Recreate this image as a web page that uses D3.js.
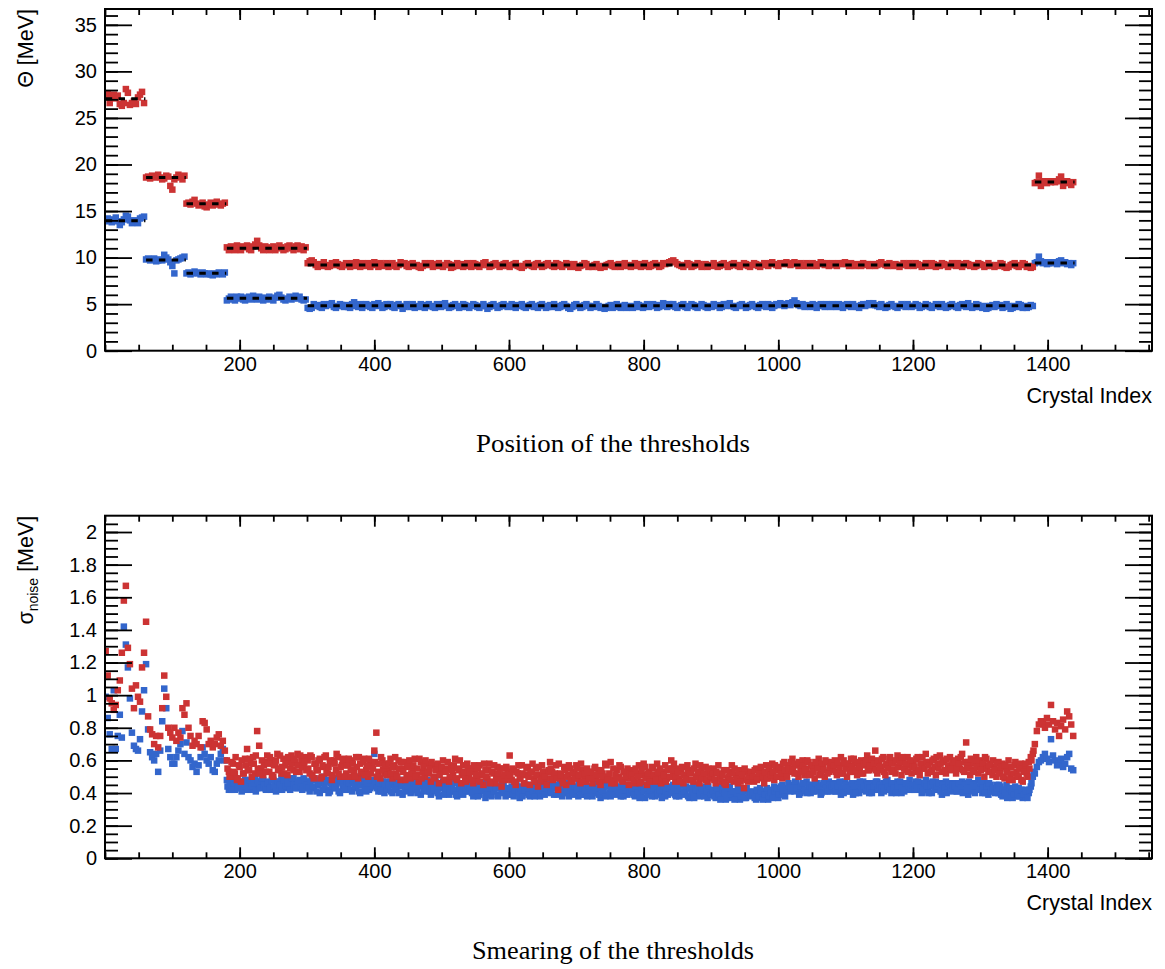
<!DOCTYPE html>
<html>
<head>
<meta charset="utf-8">
<script src="https://cdn.jsdelivr.net/npm/d3@7"></script>
<style>
  body { margin: 0; background: #fff; }
  svg { display: block; }
  .axis text { font-family: "Liberation Sans", Arial, sans-serif; }
</style>
</head>
<body>
<svg id="chart" width="1165" height="969"></svg>
<script>
// crystal index, read every third crystal along the axis
const crystalIndex = d3.range(1, 1441, 3);
// extra readings in the dense σ band, crystals in between
const crystalIndexMid = d3.range(182, 1380, 3);

// Θ threshold position [MeV], blue series
const thetaBlue = [
  // 1-58
  13.9, 14.2, 14.1, 13.8, 14.0, 14.3, 13.9, 13.5, 13.8, 14.1, 14.5, 14.4, 14.0, 13.7, 13.8, 14.0, 13.7, 14.2, 14.3, 14.4,
  // 61-118
  9.8, 9.9, 9.7, 9.8, 9.9, 9.6, 9.7, 9.8, 9.7, 10.3, 10.0, 9.8, 9.5, 9.1, 8.3, 9.7, 9.8, 9.9, 10.0, 10.1,
  // 121-178
  8.3, 8.4, 8.2, 8.3, 8.5, 8.4, 8.3, 8.2, 8.4, 8.3, 8.2, 8.3, 8.2, 8.1, 8.3, 8.2, 8.4, 8.3, 8.2, 8.4,
  // 181-298
  5.4, 5.6, 5.8, 5.5, 5.4, 5.8, 5.6, 5.8, 5.5, 5.4, 5.7, 5.8, 5.5, 5.9, 5.7, 5.5, 5.8, 5.6, 5.4, 5.7,
  5.5, 5.8, 5.6, 5.4, 5.7, 5.9, 6.0, 5.7, 5.5, 5.4, 5.6, 5.8, 5.5, 5.7, 5.9, 5.6, 5.8, 5.5, 5.4, 5.5,
  // 301-1378
  4.6, 4.5, 4.6, 5.0, 4.8, 4.9, 4.7, 4.6, 5.0, 4.8, 4.9, 5.0, 5.1, 4.7, 4.6, 4.8, 5.0, 4.9, 4.7, 4.9,
  4.7, 4.6, 5.0, 5.2, 4.8, 4.7, 5.0, 4.6, 4.8, 5.0, 4.9, 4.7, 4.6, 5.0, 4.8, 5.1, 4.9, 4.6, 4.7, 5.0,
  4.8, 5.0, 4.7, 4.6, 4.9, 5.0, 4.8, 4.5, 4.7, 5.0, 4.9, 4.7, 5.0, 4.6, 4.8, 4.7, 5.0, 4.9, 4.6, 4.8,
  5.0, 4.8, 4.7, 4.6, 5.0, 4.9, 4.7, 5.0, 5.1, 4.8, 4.6, 4.7, 4.9, 5.0, 4.8, 4.6, 4.7, 5.0, 4.9, 4.7,
  4.6, 4.8, 5.0, 4.9, 4.7, 4.6, 4.8, 5.0, 4.8, 4.5, 4.7, 4.9, 5.0, 4.8, 4.6, 4.7, 4.9, 5.0, 4.8, 4.7,
  4.8, 5.0, 4.7, 4.6, 4.9, 4.8, 5.0, 4.7, 4.6, 4.8, 4.9, 5.0, 4.7, 4.8, 4.6, 4.9, 5.0, 4.8, 4.6, 4.7,
  4.9, 4.7, 5.0, 4.8, 4.6, 4.7, 4.9, 5.0, 4.8, 4.6, 4.5, 4.7, 4.9, 5.0, 4.8, 4.6, 4.7, 4.9, 5.0, 4.8,
  4.6, 4.8, 4.7, 5.0, 4.8, 4.6, 4.7, 4.5, 4.6, 4.8, 4.9, 4.6, 4.8, 5.0, 4.7, 4.6, 4.8, 4.9, 4.6, 4.7,
  4.8, 4.6, 4.7, 5.0, 4.9, 4.7, 4.6, 4.8, 5.0, 4.7, 4.8, 5.0, 4.9, 4.6, 4.7, 4.9, 5.1, 4.8, 4.7, 5.0,
  4.8, 5.0, 4.7, 4.6, 4.8, 4.9, 5.0, 4.7, 4.6, 4.8, 5.0, 4.9, 4.7, 4.6, 4.8, 5.0, 4.9, 4.7, 4.6, 4.8,
  4.7, 5.0, 4.8, 4.9, 4.6, 4.7, 5.0, 4.8, 5.0, 5.1, 4.8, 4.7, 4.6, 4.8, 4.9, 5.0, 4.8, 4.6, 4.7, 4.9,
  5.0, 4.8, 4.7, 4.6, 4.9, 5.0, 4.8, 4.7, 5.0, 4.9, 4.6, 4.8, 5.0, 4.9, 5.1, 5.0, 4.8, 5.0, 5.1, 4.9,
  5.2, 5.4, 5.1, 4.9, 4.8, 5.0, 4.7, 4.9, 4.8, 4.7, 5.0, 4.9, 4.6, 4.8, 5.0, 4.9, 4.7, 5.0, 4.8, 4.7,
  5.0, 4.8, 4.7, 5.0, 4.9, 4.6, 4.8, 5.0, 4.9, 4.7, 5.0, 4.8, 4.7, 4.6, 4.9, 5.0, 4.8, 5.0, 5.1, 4.9,
  5.1, 4.9, 4.8, 4.7, 5.0, 4.8, 4.6, 4.7, 4.9, 5.0, 4.8, 4.7, 4.6, 4.8, 5.0, 4.9, 4.7, 5.0, 4.8, 4.7,
  4.8, 5.0, 4.9, 4.6, 4.7, 4.8, 5.0, 4.9, 4.7, 4.6, 4.8, 5.0, 4.9, 4.7, 5.0, 4.8, 4.6, 4.7, 4.9, 5.0,
  4.8, 4.7, 4.6, 4.9, 5.0, 4.8, 4.7, 5.1, 4.8, 4.6, 4.7, 5.0, 4.9, 4.7, 4.6, 4.8, 4.5, 4.6, 4.8, 4.9,
  4.7, 5.0, 4.8, 4.9, 4.6, 4.7, 5.0, 4.8, 4.5, 4.6, 4.8, 4.7, 5.0, 4.9, 4.6, 4.8, 4.6, 4.7, 4.9, 4.8,
  // 1381-1438
  9.4, 9.5, 10.1, 9.6, 9.4, 9.5, 9.3, 9.4, 9.5, 9.4, 9.5, 9.3, 9.6, 9.7, 9.4, 9.5, 9.3, 9.4, 9.2, 9.4
];

// Θ threshold position [MeV], red series
const thetaRed = [
  27.4, 27.6, 26.6, 27.3, 27.5, 27.1, 27.4, 26.5, 26.3, 26.6, 28.1, 27.7, 26.4, 26.6, 26.8, 26.5, 27.2, 27.5, 27.8, 26.6,
  18.6, 18.7, 18.5, 18.8, 18.6, 18.7, 18.9, 18.6, 18.4, 18.5, 18.8, 18.7, 17.7, 17.3, 18.4, 18.6, 18.9, 18.7, 18.4, 18.8,
  15.8, 15.9, 15.7, 16.0, 16.2, 15.8, 15.6, 15.7, 15.9, 15.5, 15.4, 15.7, 15.9, 15.6, 15.8, 16.0, 15.7, 15.6, 15.8, 15.9,
  11.1, 10.8, 11.2, 10.9, 10.8, 11.3, 11.0, 10.8, 11.2, 11.1, 11.3, 10.9, 10.8, 11.2, 11.4, 11.8, 11.3, 11.0, 10.8, 11.2,
  11.1, 10.8, 10.9, 11.2, 10.8, 11.0, 11.3, 11.1, 10.8, 10.9, 11.2, 11.3, 11.0, 10.8, 11.2, 11.3, 10.9, 11.2, 10.8, 11.1,
  9.4, 9.6, 9.7, 9.5, 9.2, 9.0, 9.3, 9.1, 9.5, 9.2, 9.0, 9.1, 9.4, 9.2, 9.5, 9.3, 9.1, 9.0, 9.2, 9.4,
  9.2, 9.0, 9.4, 9.1, 9.5, 9.3, 9.0, 9.4, 9.2, 9.1, 9.4, 9.0, 9.2, 9.5, 9.3, 9.0, 9.4, 9.1, 9.2, 9.4,
  9.0, 9.3, 9.4, 9.1, 9.0, 9.2, 9.5, 9.3, 9.4, 9.1, 9.0, 9.3, 9.4, 9.1, 9.2, 9.0, 8.9, 9.1, 9.4, 9.3,
  9.2, 9.4, 9.0, 9.1, 9.3, 9.4, 9.1, 9.0, 9.2, 9.4, 9.3, 8.9, 9.0, 9.2, 9.4, 9.1, 9.3, 9.0, 9.2, 9.4,
  9.1, 9.0, 9.4, 9.3, 9.1, 9.0, 9.2, 9.4, 9.5, 9.2, 9.0, 9.1, 9.3, 9.4, 9.2, 9.0, 9.1, 9.3, 9.4, 9.1,
  9.0, 9.2, 9.3, 9.4, 9.1, 9.0, 8.9, 9.1, 9.3, 9.4, 9.2, 9.1, 9.0, 9.3, 9.4, 9.2, 9.0, 9.1, 9.3, 9.4,
  9.2, 9.1, 9.0, 9.4, 9.3, 9.1, 9.0, 9.2, 9.4, 9.3, 9.0, 9.1, 9.3, 9.0, 8.9, 9.1, 9.2, 9.4, 9.3, 9.0,
  9.1, 9.0, 9.2, 9.3, 9.0, 8.9, 9.1, 9.0, 9.2, 9.3, 9.4, 9.1, 9.0, 9.2, 9.3, 9.0, 9.1, 9.4, 9.2, 9.1,
  9.0, 9.2, 9.4, 9.1, 9.3, 9.0, 9.1, 9.4, 9.2, 9.0, 9.1, 9.3, 9.4, 9.2, 9.0, 9.1, 9.4, 9.3, 9.4, 9.5,
  9.6, 9.7, 9.5, 9.3, 9.2, 9.1, 9.0, 9.2, 9.4, 9.3, 9.0, 9.1, 9.2, 9.4, 9.3, 9.0, 9.1, 9.3, 9.0, 9.2,
  9.1, 9.4, 9.2, 9.0, 9.1, 9.3, 9.4, 9.2, 9.0, 9.1, 9.3, 9.4, 9.2, 9.1, 9.0, 9.2, 9.4, 9.3, 9.1, 9.0,
  9.2, 9.4, 9.3, 9.1, 9.0, 9.2, 9.4, 9.3, 9.1, 9.4, 9.5, 9.3, 9.2, 9.1, 9.4, 9.3, 9.4, 9.5, 9.3, 9.2,
  9.4, 9.5, 9.3, 9.1, 9.4, 9.2, 9.1, 9.4, 9.3, 9.1, 9.4, 9.2, 9.1, 9.3, 9.5, 9.4, 9.2, 9.4, 9.1, 9.2,
  9.4, 9.2, 9.1, 9.4, 9.3, 9.4, 9.5, 9.3, 9.1, 9.4, 9.2, 9.1, 9.3, 9.2, 9.1, 9.4, 9.2, 9.3, 9.1, 9.2,
  9.3, 9.1, 9.2, 9.4, 9.5, 9.3, 9.2, 9.1, 9.4, 9.2, 9.1, 9.3, 9.2, 9.0, 9.2, 9.4, 9.3, 9.1, 9.4, 9.2,
  9.1, 9.4, 9.3, 9.2, 9.0, 9.1, 9.4, 9.2, 9.1, 9.4, 9.3, 9.0, 9.2, 9.1, 9.4, 9.3, 9.2, 9.0, 9.2, 9.4,
  9.2, 9.1, 9.4, 9.3, 9.0, 9.2, 9.4, 9.3, 9.1, 9.2, 9.0, 9.1, 9.4, 9.3, 9.2, 9.0, 9.1, 9.4, 9.2, 9.1,
  9.0, 9.2, 9.1, 9.4, 9.3, 9.0, 8.9, 9.0, 9.2, 9.3, 9.4, 9.1, 9.0, 9.2, 9.4, 9.3, 9.0, 9.1, 8.9, 9.0,
  18.0, 18.1, 18.8, 17.7, 18.2, 18.1, 18.0, 18.2, 18.1, 18.2, 18.1, 18.2, 18.4, 18.7, 17.7, 18.1, 18.2, 18.0, 17.8, 18.1
];

// σ_noise [MeV], blue series
const sigmaBlue = [
  0.99, 0.86, 0.76, 0.67, 1.03, 0.67, 0.75, 0.88, 0.74, 1.42, 1.31, 1.17, 0.98, 0.77, 0.69, 0.67, 0.66, 0.73, 0.90, 1.03,
  1.19, 0.79, 0.65, 0.62, 0.60, 0.64, 0.53, 0.66, 0.84, 1.04, 0.92, 0.67, 0.62, 0.58, 0.58, 0.62, 0.66, 0.70, 0.78, 0.64,
  0.71, 0.62, 0.60, 0.56, 0.58, 0.53, 0.57, 0.62, 0.68, 0.64, 0.60, 0.58, 0.62, 0.54, 0.53, 0.58, 0.60, 0.64, 0.67, 0.60,
  0.48, 0.42, 0.45, 0.43, 0.42, 0.47, 0.43, 0.46, 0.42, 0.48, 0.43, 0.47, 0.45, 0.42, 0.49, 0.43, 0.47, 0.44, 0.48, 0.43,
  0.47, 0.44, 0.42, 0.48, 0.45, 0.47, 0.43, 0.49, 0.44, 0.47, 0.43, 0.48, 0.44, 0.49, 0.46, 0.43, 0.48, 0.45, 0.49, 0.43,
  0.47, 0.41, 0.49, 0.43, 0.48, 0.45, 0.40, 0.46, 0.50, 0.42, 0.48, 0.41, 0.44, 0.49, 0.43, 0.47, 0.40, 0.48, 0.45, 0.42,
  0.44, 0.49, 0.41, 0.47, 0.43, 0.50, 0.40, 0.45, 0.48, 0.41, 0.47, 0.43, 0.46, 0.64, 0.48, 0.41, 0.49, 0.43, 0.40, 0.47,
  0.43, 0.47, 0.40, 0.46, 0.42, 0.48, 0.44, 0.39, 0.46, 0.41, 0.48, 0.40, 0.44, 0.49, 0.42, 0.46, 0.39, 0.45, 0.47, 0.41,
  0.43, 0.39, 0.46, 0.41, 0.45, 0.38, 0.43, 0.47, 0.40, 0.45, 0.39, 0.44, 0.47, 0.41, 0.38, 0.45, 0.42, 0.39, 0.46, 0.41,
  0.41, 0.45, 0.38, 0.43, 0.46, 0.39, 0.44, 0.41, 0.37, 0.45, 0.42, 0.38, 0.44, 0.46, 0.39, 0.43, 0.41, 0.45, 0.38, 0.43,
  0.40, 0.44, 0.38, 0.45, 0.41, 0.37, 0.44, 0.40, 0.45, 0.42, 0.38, 0.44, 0.40, 0.46, 0.41, 0.38, 0.44, 0.40, 0.45, 0.48,
  0.42, 0.46, 0.39, 0.45, 0.41, 0.47, 0.38, 0.43, 0.40, 0.45, 0.41, 0.46, 0.39, 0.43, 0.38, 0.45, 0.41, 0.39, 0.44, 0.42,
  0.41, 0.38, 0.45, 0.40, 0.44, 0.37, 0.42, 0.46, 0.39, 0.44, 0.38, 0.42, 0.45, 0.40, 0.44, 0.38, 0.41, 0.45, 0.39, 0.43,
  0.40, 0.44, 0.38, 0.42, 0.45, 0.39, 0.43, 0.37, 0.41, 0.46, 0.40, 0.44, 0.38, 0.42, 0.45, 0.39, 0.41, 0.38, 0.44, 0.40,
  0.42, 0.45, 0.39, 0.44, 0.38, 0.41, 0.46, 0.40, 0.43, 0.37, 0.42, 0.45, 0.39, 0.44, 0.38, 0.42, 0.40, 0.44, 0.37, 0.41,
  0.39, 0.42, 0.37, 0.41, 0.44, 0.38, 0.42, 0.36, 0.40, 0.44, 0.37, 0.41, 0.39, 0.43, 0.36, 0.39, 0.42, 0.37, 0.41, 0.39,
  0.38, 0.41, 0.36, 0.40, 0.43, 0.37, 0.41, 0.39, 0.36, 0.42, 0.39, 0.44, 0.40, 0.37, 0.42, 0.45, 0.40, 0.43, 0.46, 0.41,
  0.45, 0.41, 0.46, 0.42, 0.40, 0.45, 0.41, 0.47, 0.43, 0.40, 0.45, 0.41, 0.46, 0.42, 0.39, 0.45, 0.41, 0.43, 0.47, 0.41,
  0.43, 0.46, 0.41, 0.45, 0.39, 0.43, 0.47, 0.41, 0.45, 0.42, 0.39, 0.46, 0.43, 0.40, 0.45, 0.47, 0.42, 0.46, 0.40, 0.44,
  0.46, 0.42, 0.47, 0.44, 0.40, 0.46, 0.42, 0.48, 0.44, 0.40, 0.46, 0.42, 0.47, 0.43, 0.40, 0.46, 0.42, 0.44, 0.48, 0.42,
  0.44, 0.47, 0.42, 0.46, 0.40, 0.44, 0.48, 0.42, 0.46, 0.40, 0.44, 0.47, 0.42, 0.46, 0.39, 0.44, 0.47, 0.42, 0.46, 0.41,
  0.43, 0.46, 0.41, 0.45, 0.47, 0.42, 0.46, 0.39, 0.44, 0.41, 0.46, 0.42, 0.48, 0.44, 0.40, 0.46, 0.42, 0.39, 0.45, 0.41,
  0.42, 0.45, 0.40, 0.44, 0.38, 0.42, 0.45, 0.39, 0.43, 0.37, 0.41, 0.38, 0.43, 0.40, 0.37, 0.42, 0.39, 0.40, 0.44, 0.50,
  0.52, 0.56, 0.59, 0.60, 0.62, 0.64, 0.61, 0.59, 0.73, 0.63, 0.60, 0.57, 0.58, 0.61, 0.56, 0.58, 0.62, 0.64, 0.55, 0.54
];

// σ_noise [MeV], red series
const sigmaRed = [
  1.27, 1.12, 0.98, 0.95, 0.91, 0.94, 1.03, 1.09, 1.26, 1.58, 1.67, 1.29, 1.19, 1.04, 0.92, 1.06, 0.99, 0.96, 1.17, 1.26,
  1.45, 0.87, 0.79, 0.76, 0.70, 0.75, 0.68, 0.75, 0.92, 1.12, 0.99, 0.80, 0.77, 0.74, 0.80, 0.72, 0.77, 0.74, 0.92, 0.88,
  0.95, 0.80, 0.75, 0.69, 0.72, 0.70, 0.75, 0.68, 0.84, 0.83, 0.79, 0.70, 0.72, 0.68, 0.70, 0.74, 0.76, 0.69, 0.72, 0.66,
  0.60, 0.53, 0.50, 0.58, 0.52, 0.48, 0.57, 0.47, 0.52, 0.61, 0.67, 0.54, 0.58, 0.62, 0.52, 0.78, 0.69, 0.55, 0.51, 0.59,
  0.63, 0.53, 0.60, 0.50, 0.58, 0.64, 0.55, 0.52, 0.61, 0.57, 0.51, 0.60, 0.63, 0.54, 0.59, 0.64, 0.53, 0.60, 0.56, 0.62,
  0.60, 0.52, 0.62, 0.49, 0.58, 0.54, 0.61, 0.50, 0.56, 0.63, 0.52, 0.59, 0.48, 0.60, 0.54, 0.62, 0.50, 0.57, 0.61, 0.52,
  0.57, 0.50, 0.60, 0.53, 0.62, 0.49, 0.58, 0.52, 0.61, 0.54, 0.50, 0.59, 0.56, 0.66, 0.77, 0.53, 0.49, 0.60, 0.52, 0.58,
  0.54, 0.61, 0.49, 0.57, 0.52, 0.60, 0.48, 0.55, 0.59, 0.51, 0.57, 0.49, 0.54, 0.61, 0.51, 0.47, 0.59, 0.53, 0.50, 0.58,
  0.52, 0.47, 0.57, 0.50, 0.56, 0.46, 0.53, 0.60, 0.48, 0.55, 0.47, 0.56, 0.51, 0.61, 0.48, 0.54, 0.46, 0.57, 0.50, 0.58,
  0.50, 0.55, 0.46, 0.54, 0.48, 0.57, 0.51, 0.45, 0.54, 0.49, 0.58, 0.47, 0.52, 0.46, 0.56, 0.50, 0.44, 0.55, 0.48, 0.53,
  0.63, 0.48, 0.54, 0.45, 0.52, 0.49, 0.57, 0.46, 0.51, 0.56, 0.45, 0.53, 0.49, 0.55, 0.44, 0.51, 0.57, 0.47, 0.53, 0.49,
  0.59, 0.53, 0.50, 0.57, 0.42, 0.52, 0.48, 0.56, 0.45, 0.51, 0.55, 0.47, 0.53, 0.57, 0.49, 0.46, 0.54, 0.50, 0.47, 0.53,
  0.50, 0.46, 0.55, 0.49, 0.54, 0.45, 0.52, 0.48, 0.57, 0.50, 0.59, 0.48, 0.46, 0.54, 0.50, 0.56, 0.47, 0.53, 0.49, 0.45,
  0.49, 0.54, 0.46, 0.52, 0.57, 0.47, 0.51, 0.56, 0.45, 0.53, 0.49, 0.55, 0.47, 0.58, 0.50, 0.46, 0.53, 0.57, 0.49, 0.54,
  0.60, 0.52, 0.47, 0.55, 0.49, 0.54, 0.46, 0.51, 0.57, 0.48, 0.53, 0.47, 0.58, 0.50, 0.46, 0.54, 0.49, 0.56, 0.47, 0.52,
  0.49, 0.55, 0.46, 0.52, 0.50, 0.47, 0.54, 0.45, 0.49, 0.53, 0.57, 0.47, 0.51, 0.46, 0.54, 0.49, 0.43, 0.53, 0.47, 0.51,
  0.52, 0.47, 0.55, 0.49, 0.54, 0.50, 0.46, 0.57, 0.49, 0.53, 0.58, 0.48, 0.54, 0.50, 0.56, 0.49, 0.59, 0.52, 0.57, 0.53,
  0.61, 0.52, 0.57, 0.50, 0.56, 0.60, 0.51, 0.55, 0.59, 0.52, 0.56, 0.49, 0.57, 0.61, 0.52, 0.56, 0.50, 0.59, 0.53, 0.57,
  0.54, 0.60, 0.51, 0.57, 0.62, 0.52, 0.58, 0.50, 0.57, 0.61, 0.53, 0.58, 0.51, 0.55, 0.60, 0.52, 0.57, 0.63, 0.54, 0.58,
  0.55, 0.66, 0.52, 0.59, 0.54, 0.62, 0.51, 0.58, 0.61, 0.53, 0.59, 0.52, 0.63, 0.56, 0.51, 0.59, 0.54, 0.62, 0.57, 0.52,
  0.59, 0.53, 0.62, 0.51, 0.58, 0.55, 0.64, 0.52, 0.59, 0.54, 0.61, 0.51, 0.58, 0.63, 0.53, 0.59, 0.52, 0.56, 0.62, 0.54,
  0.58, 0.52, 0.61, 0.55, 0.64, 0.53, 0.71, 0.59, 0.51, 0.58, 0.54, 0.62, 0.52, 0.59, 0.55, 0.50, 0.61, 0.53, 0.58, 0.51,
  0.56, 0.50, 0.59, 0.53, 0.58, 0.49, 0.55, 0.60, 0.51, 0.48, 0.57, 0.53, 0.50, 0.58, 0.47, 0.55, 0.52, 0.59, 0.62, 0.64,
  0.70, 0.78, 0.82, 0.84, 0.83, 0.80, 0.86, 0.82, 0.94, 0.84, 0.79, 0.83, 0.75, 0.81, 0.85, 0.79, 0.90, 0.87, 0.82, 0.75
];

// σ_noise [MeV] at the in-between crystals 182-1379, blue
const sigmaBlueMid = [
  0.44, 0.47, 0.42, 0.46, 0.49, 0.43, 0.45, 0.41, 0.47, 0.44, 0.42, 0.48, 0.44, 0.46, 0.41, 0.47, 0.43, 0.49, 0.45, 0.42,
  0.46, 0.43, 0.48, 0.44, 0.41, 0.47, 0.45, 0.42, 0.48, 0.44, 0.46, 0.42, 0.49, 0.45, 0.43, 0.47, 0.44, 0.42, 0.48, 0.45,
  0.43, 0.47, 0.44, 0.49, 0.41, 0.46, 0.48, 0.42, 0.45, 0.47, 0.40, 0.46, 0.49, 0.43, 0.46, 0.41, 0.48, 0.44, 0.42, 0.47,
  0.46, 0.42, 0.48, 0.44, 0.47, 0.41, 0.45, 0.49, 0.43, 0.46, 0.42, 0.48, 0.44, 0.47, 0.43, 0.46, 0.41, 0.47, 0.45, 0.42,
  0.45, 0.41, 0.47, 0.43, 0.46, 0.40, 0.45, 0.48, 0.42, 0.44, 0.47, 0.41, 0.46, 0.43, 0.40, 0.47, 0.44, 0.42, 0.45, 0.48,
  0.41, 0.45, 0.42, 0.47, 0.40, 0.44, 0.46, 0.39, 0.43, 0.46, 0.41, 0.45, 0.42, 0.39, 0.46, 0.43, 0.40, 0.45, 0.42, 0.44,
  0.43, 0.40, 0.45, 0.41, 0.38, 0.44, 0.42, 0.46, 0.40, 0.43, 0.39, 0.45, 0.41, 0.43, 0.38, 0.44, 0.46, 0.40, 0.42, 0.39,
  0.43, 0.39, 0.42, 0.46, 0.40, 0.43, 0.38, 0.42, 0.44, 0.39, 0.45, 0.41, 0.38, 0.43, 0.45, 0.40, 0.42, 0.39, 0.43, 0.41,
  0.40, 0.43, 0.45, 0.39, 0.42, 0.44, 0.40, 0.46, 0.41, 0.38, 0.43, 0.40, 0.44, 0.42, 0.46, 0.39, 0.43, 0.41, 0.38, 0.44,
  0.43, 0.40, 0.42, 0.46, 0.39, 0.43, 0.41, 0.38, 0.44, 0.40, 0.43, 0.46, 0.39, 0.42, 0.40, 0.44, 0.38, 0.42, 0.45, 0.40,
  0.42, 0.39, 0.44, 0.40, 0.37, 0.43, 0.41, 0.45, 0.39, 0.42, 0.38, 0.43, 0.46, 0.40, 0.42, 0.37, 0.44, 0.41, 0.39, 0.43,
  0.40, 0.43, 0.38, 0.42, 0.45, 0.39, 0.41, 0.44, 0.38, 0.43, 0.40, 0.37, 0.42, 0.45, 0.40, 0.43, 0.38, 0.41, 0.44, 0.39,
  0.41, 0.38, 0.43, 0.39, 0.36, 0.42, 0.40, 0.37, 0.43, 0.39, 0.41, 0.36, 0.40, 0.42, 0.38, 0.41, 0.37, 0.43, 0.39, 0.40,
  0.40, 0.37, 0.42, 0.38, 0.41, 0.36, 0.39, 0.43, 0.38, 0.40, 0.37, 0.41, 0.43, 0.39, 0.44, 0.41, 0.38, 0.42, 0.44, 0.43,
  0.42, 0.47, 0.43, 0.39, 0.44, 0.46, 0.42, 0.40, 0.45, 0.43, 0.41, 0.46, 0.42, 0.44, 0.40, 0.46, 0.43, 0.41, 0.45, 0.44,
  0.45, 0.41, 0.44, 0.47, 0.42, 0.40, 0.45, 0.43, 0.41, 0.46, 0.44, 0.40, 0.45, 0.47, 0.42, 0.44, 0.41, 0.45, 0.43, 0.40,
  0.44, 0.47, 0.42, 0.45, 0.43, 0.41, 0.47, 0.44, 0.42, 0.46, 0.43, 0.40, 0.45, 0.47, 0.43, 0.41, 0.46, 0.44, 0.42, 0.45,
  0.42, 0.45, 0.47, 0.43, 0.41, 0.46, 0.44, 0.40, 0.45, 0.47, 0.42, 0.44, 0.46, 0.41, 0.45, 0.43, 0.40, 0.46, 0.43, 0.45,
  0.44, 0.41, 0.46, 0.43, 0.40, 0.45, 0.42, 0.47, 0.43, 0.45, 0.40, 0.44, 0.42, 0.46, 0.43, 0.40, 0.44, 0.46, 0.41, 0.43,
  0.40, 0.43, 0.45, 0.39, 0.42, 0.40, 0.37, 0.43, 0.41, 0.39, 0.44, 0.40, 0.38, 0.42, 0.39, 0.41, 0.37, 0.42, 0.46, 0.53
];

// σ_noise [MeV] at the in-between crystals 182-1379, red
const sigmaRedMid = [
  0.55, 0.50, 0.59, 0.53, 0.62, 0.49, 0.56, 0.60, 0.52, 0.57, 0.54, 0.61, 0.50, 0.58, 0.63, 0.55, 0.52, 0.60, 0.57, 0.53,
  0.58, 0.62, 0.51, 0.57, 0.60, 0.54, 0.63, 0.56, 0.52, 0.59, 0.62, 0.55, 0.58, 0.61, 0.53, 0.57, 0.63, 0.56, 0.59, 0.54,
  0.55, 0.63, 0.51, 0.58, 0.54, 0.60, 0.49, 0.57, 0.62, 0.53, 0.56, 0.60, 0.51, 0.58, 0.64, 0.52, 0.56, 0.60, 0.50, 0.57,
  0.61, 0.54, 0.58, 0.50, 0.56, 0.62, 0.53, 0.59, 0.51, 0.57, 0.61, 0.52, 0.55, 0.59, 0.50, 0.58, 0.62, 0.54, 0.57, 0.51,
  0.58, 0.52, 0.56, 0.62, 0.50, 0.55, 0.59, 0.53, 0.48, 0.56, 0.60, 0.52, 0.57, 0.50, 0.55, 0.61, 0.49, 0.56, 0.60, 0.53,
  0.55, 0.59, 0.49, 0.54, 0.58, 0.51, 0.56, 0.48, 0.53, 0.59, 0.50, 0.54, 0.57, 0.49, 0.55, 0.60, 0.51, 0.53, 0.47, 0.55,
  0.53, 0.48, 0.57, 0.51, 0.55, 0.47, 0.52, 0.58, 0.50, 0.54, 0.46, 0.53, 0.57, 0.49, 0.52, 0.55, 0.48, 0.51, 0.56, 0.49,
  0.51, 0.55, 0.47, 0.53, 0.57, 0.49, 0.52, 0.46, 0.55, 0.50, 0.53, 0.58, 0.47, 0.51, 0.56, 0.48, 0.53, 0.50, 0.45, 0.54,
  0.55, 0.48, 0.52, 0.49, 0.58, 0.51, 0.46, 0.54, 0.50, 0.57, 0.48, 0.52, 0.49, 0.55, 0.51, 0.58, 0.47, 0.52, 0.55, 0.49,
  0.53, 0.49, 0.56, 0.51, 0.47, 0.54, 0.50, 0.58, 0.48, 0.52, 0.46, 0.55, 0.51, 0.49, 0.57, 0.48, 0.53, 0.50, 0.55, 0.52,
  0.51, 0.48, 0.55, 0.50, 0.46, 0.54, 0.58, 0.49, 0.52, 0.47, 0.56, 0.51, 0.48, 0.53, 0.55, 0.49, 0.51, 0.47, 0.55, 0.50,
  0.55, 0.58, 0.50, 0.53, 0.47, 0.56, 0.51, 0.49, 0.54, 0.52, 0.48, 0.55, 0.50, 0.53, 0.57, 0.49, 0.52, 0.48, 0.55, 0.50,
  0.52, 0.48, 0.53, 0.57, 0.49, 0.51, 0.46, 0.54, 0.50, 0.48, 0.52, 0.55, 0.49, 0.53, 0.47, 0.51, 0.55, 0.48, 0.50, 0.53,
  0.50, 0.54, 0.48, 0.52, 0.56, 0.50, 0.53, 0.49, 0.55, 0.51, 0.53, 0.57, 0.50, 0.55, 0.52, 0.58, 0.54, 0.50, 0.55, 0.59,
  0.55, 0.58, 0.52, 0.59, 0.53, 0.57, 0.54, 0.60, 0.51, 0.57, 0.53, 0.59, 0.55, 0.51, 0.58, 0.54, 0.60, 0.52, 0.56, 0.59,
  0.57, 0.53, 0.59, 0.55, 0.52, 0.60, 0.55, 0.58, 0.53, 0.56, 0.61, 0.54, 0.59, 0.56, 0.52, 0.58, 0.60, 0.54, 0.57, 0.61,
  0.58, 0.54, 0.60, 0.56, 0.61, 0.53, 0.57, 0.55, 0.62, 0.58, 0.54, 0.60, 0.56, 0.59, 0.62, 0.55, 0.58, 0.53, 0.60, 0.56,
  0.56, 0.61, 0.54, 0.58, 0.62, 0.55, 0.59, 0.57, 0.53, 0.60, 0.56, 0.62, 0.55, 0.58, 0.60, 0.54, 0.61, 0.57, 0.55, 0.59,
  0.60, 0.55, 0.58, 0.62, 0.54, 0.59, 0.57, 0.55, 0.61, 0.53, 0.59, 0.56, 0.60, 0.54, 0.58, 0.62, 0.55, 0.57, 0.53, 0.60,
  0.54, 0.58, 0.52, 0.56, 0.50, 0.57, 0.53, 0.48, 0.56, 0.52, 0.59, 0.50, 0.55, 0.48, 0.53, 0.58, 0.50, 0.55, 0.60, 0.66
];

// crystal groups and the fitted Θ level of each (dashed lines)
const groupStart = [1, 61, 121, 181, 301, 1381];
const groupEnd = [60, 120, 180, 300, 1380, 1440];
const groupThetaRed = [27.05, 18.6, 15.77, 11.0, 9.21, 18.13];
const groupThetaBlue = [13.97, 9.75, 8.32, 5.63, 4.84, 9.43];

// axis ticks
const xTicks = [200, 400, 600, 800, 1000, 1200, 1400];
const thetaTicks = [0, 5, 10, 15, 20, 25, 30, 35];
const sigmaTicks = [0, 0.2, 0.4, 0.6, 0.8, 1, 1.2, 1.4, 1.6, 1.8, 2];

const RED = "#cc3333", BLUE = "#3366cc";
const MS = 6.5; // marker size
const svg = d3.select("#chart");
const left = 105, right = 1152;

const x = d3.scaleLinear().domain([0, 1555]).range([left, right]);

function drawPanel(opts) {
  const y = opts.y;
  const top = y.range()[1], bottom = y.range()[0];
  const g = svg.append("g");

  const clipId = "clip" + opts.id;
  g.append("clipPath").attr("id", clipId)
    .append("rect").attr("x", left).attr("y", top)
    .attr("width", right - left).attr("height", bottom - top);

  // markers
  const marks = g.append("g").attr("clip-path", `url(#${clipId})`);
  opts.series.forEach(s => {
    marks.append("g").selectAll("rect")
      .data(s.xs.map((c, i) => [c, s.values[i]]).filter(d => d[1] != null))
      .enter().append("rect")
      .attr("x", d => x(d[0]) - MS / 2)
      .attr("y", d => y(d[1]) - MS / 2)
      .attr("width", MS).attr("height", MS)
      .attr("fill", s.color);
  });

  // dashed group levels
  if (opts.levels) {
    opts.levels.forEach(lv => {
      marks.append("g").selectAll("line")
        .data(groupStart.map((s, i) => [s, groupEnd[i], lv[i]]))
        .enter().append("line")
        .attr("x1", d => x(d[0])).attr("x2", d => x(d[1]))
        .attr("y1", d => y(d[2])).attr("y2", d => y(d[2]))
        .attr("stroke", "#000").attr("stroke-width", 3)
        .attr("stroke-dasharray", "6.5,6.3");
    });
  }

  // axes: ticks point inwards, drawn on all four sides
  const styleAxis = sel => {
    sel.select(".domain").remove();
    sel.selectAll("line").attr("stroke", "#000").attr("stroke-width", 1.8);
    sel.attr("font-size", 20).attr("font-family", "'Liberation Sans', Arial, sans-serif");
    sel.selectAll("text").attr("fill", "#000");
  };

  g.append("g").attr("class", "axis").attr("transform", `translate(0,${bottom})`)
    .call(d3.axisBottom(x).tickValues(d3.range(0, 1556, 50)).tickSize(-6).tickFormat(""))
    .call(styleAxis);
  g.append("g").attr("class", "axis").attr("transform", `translate(0,${bottom})`)
    .call(d3.axisBottom(x).tickValues(xTicks).tickSize(-11).tickPadding(7).tickFormat(d3.format("d")))
    .call(styleAxis)
    .selectAll("text").attr("dy", "0.71em").attr("y", 6);
  g.append("g").attr("class", "axis").attr("transform", `translate(0,${top})`)
    .call(d3.axisTop(x).tickValues(d3.range(0, 1556, 50)).tickSize(-6).tickFormat(""))
    .call(styleAxis);
  g.append("g").attr("class", "axis").attr("transform", `translate(0,${top})`)
    .call(d3.axisTop(x).tickValues(xTicks).tickSize(-11).tickFormat(""))
    .call(styleAxis);

  g.append("g").attr("class", "axis").attr("transform", `translate(${left},0)`)
    .call(d3.axisLeft(y).tickValues(opts.minor).tickSize(-13).tickFormat(""))
    .call(styleAxis);
  g.append("g").attr("class", "axis").attr("transform", `translate(${left},0)`)
    .call(d3.axisLeft(y).tickValues(opts.ticks).tickSize(-27).tickPadding(8).tickFormat(d3.format("~g")))
    .call(styleAxis);
  g.append("g").attr("class", "axis").attr("transform", `translate(${right},0)`)
    .call(d3.axisRight(y).tickValues(opts.minor).tickSize(-13).tickFormat(""))
    .call(styleAxis);
  g.append("g").attr("class", "axis").attr("transform", `translate(${right},0)`)
    .call(d3.axisRight(y).tickValues(opts.ticks).tickSize(-27).tickFormat(""))
    .call(styleAxis);

  // frame
  g.append("rect").attr("x", left).attr("y", top)
    .attr("width", right - left).attr("height", bottom - top)
    .attr("fill", "none").attr("stroke", "#000").attr("stroke-width", 2);

  // x title
  g.append("text").attr("x", right).attr("y", bottom + 52)
    .attr("text-anchor", "end")
    .attr("font-family", "'Liberation Sans', Arial, sans-serif")
    .attr("font-size", 21.5).text("Crystal Index");

  // y title
  const yt = g.append("text")
    .attr("transform", `translate(33,${top}) rotate(-90)`)
    .attr("text-anchor", "end")
    .attr("font-family", "'Liberation Sans', Arial, sans-serif")
    .attr("font-size", 21.5);
  opts.yTitle(yt);

  // caption
  g.append("text").attr("x", 613).attr("y", bottom + 101)
    .attr("text-anchor", "middle")
    .attr("font-family", "'Liberation Serif', 'Times New Roman', serif")
    .attr("font-size", 25)
    .attr("textLength", opts.captionWidth).attr("lengthAdjust", "spacingAndGlyphs")
    .text(opts.caption);
}

drawPanel({
  id: "theta",
  y: d3.scaleLinear().domain([0, 36.7]).range([350.7, 9]),
  ticks: thetaTicks,
  minor: d3.range(0, 37, 1),
  series: [
    { xs: crystalIndex, values: thetaBlue, color: BLUE },
    { xs: crystalIndex, values: thetaRed, color: RED }
  ],
  levels: [groupThetaRed, groupThetaBlue],
  yTitle: t => t.text("Θ [MeV]"),
  caption: "Position of the thresholds",
  captionWidth: 274
});

drawPanel({
  id: "sigma",
  y: d3.scaleLinear().domain([0, 2.1]).range([858.3, 515.7]),
  ticks: sigmaTicks,
  minor: d3.range(0, 2.1, 0.05),
  series: [
    { xs: crystalIndex, values: sigmaBlue, color: BLUE },
    { xs: crystalIndexMid, values: sigmaBlueMid, color: BLUE },
    { xs: crystalIndex, values: sigmaRed, color: RED },
    { xs: crystalIndexMid, values: sigmaRedMid, color: RED }
  ],
  yTitle: t => {
    t.append("tspan").text("σ");
    t.append("tspan").attr("font-size", 14).attr("dy", 5).text("noise");
    t.append("tspan").attr("dy", -5).text(" [MeV]");
  },
  caption: "Smearing of the thresholds",
  captionWidth: 282
});
</script>
</body>
</html>
